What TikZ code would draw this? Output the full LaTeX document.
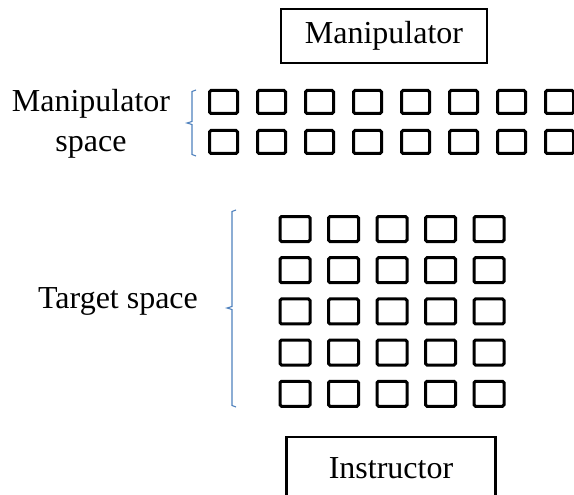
\documentclass[tikz,border=0pt]{standalone}
\usepackage{fontspec}
\setmainfont{Liberation Serif}
\newfontfamily\tnrfont{Liberation Serif}
\usepackage{xcolor}
\definecolor{bracketblue}{RGB}{79,129,189}

\tikzset{
  cell/.style={rectangle,draw=black,line width=3pt,rounded corners=1.5pt,inner sep=0pt},
  mcell/.style={cell,minimum width=28pt,minimum height=23pt},
  tcell/.style={cell,minimum width=30pt,minimum height=25pt},
  agentbox/.style={rectangle,draw=black,line width=2.4pt,inner sep=0pt,font=\tnrfont\fontsize{32}{38}\selectfont},
  spacelabel/.style={align=center,font=\tnrfont\fontsize{32}{40}\selectfont},
  bracket/.style={draw=bracketblue,line width=1.1pt}
}

\begin{document}
\begin{tikzpicture}[x=1pt,y=-1pt]
\clip (0,0) rectangle (574,495);
% \draw[help lines] (0,0) grid[step=50] (574,495);
\node (manip) [agentbox,minimum width=206pt,minimum height=54pt] at (384,36) {Manipulator};
\node (instr) [agentbox,minimum width=209pt,minimum height=62pt] at (391,468) {Instructor};
%
% manipulator space, 2 x 8
\foreach \r in {1,2}
  \foreach \c in {1,...,8}
    \node (m-\r-\c) [mcell] at ({223.5+48*(\c-1)},{102+40*(\r-1)}) {};
% target space, 5 x 5
\foreach \r in {1,...,5}
  \foreach \c in {1,...,5}
    \node (t-\r-\c) [tcell] at ({295+48.5*(\c-1)},{229+41.2*(\r-1)}) {};
%
\node (mlabel) [spacelabel] at (91,124) {Manipulator\\space};
\node (tlabel) [spacelabel] at (118,301) {Target space};
%
\draw[bracket] (196,90) -- (192,91.5) -- (192,121.5) -- (187,123) -- (192,124.5) -- (192,154.5) -- (196,156);
\draw[bracket] (236,210) -- (232,211.5) -- (232,306.5) -- (227,308) -- (232,309.5) -- (232,405.5) -- (236,407);
\end{tikzpicture}
\end{document}
